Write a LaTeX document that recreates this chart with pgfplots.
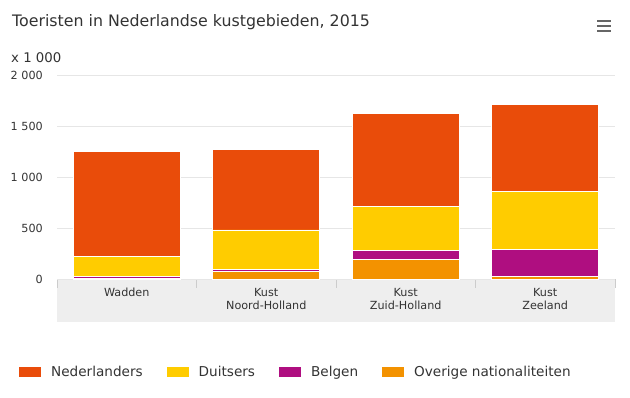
\documentclass[border=0pt]{standalone}
\usepackage{pgfplots}
\pgfplotsset{compat=1.18}
\usepackage{fontspec}
\setmainfont{DejaVu Sans}
\definecolor{cNL}{HTML}{E94C0A}
\definecolor{cDE}{HTML}{FFCC00}
\definecolor{cBE}{HTML}{AF0E80}
\definecolor{cOV}{HTML}{F39200}
\definecolor{txt}{HTML}{333333}
\definecolor{band}{HTML}{EEEEEE}
\definecolor{bandline}{HTML}{CCCCCC}
\definecolor{gridc}{HTML}{E6E6E6}

\pgfplotstableread{
x Overige Belgen Duitsers Nederlanders
0 8 19 194 1029
1 76 20 386 788
2 191 88 435 906
3 27 262 572 847
}\datatable

\begin{document}
\begin{tikzpicture}
\path[use as bounding box] (0,0) rectangle (630pt,-397pt);
\node[anchor=west, text=txt, font=\fontsize{15.8}{18}\selectfont, inner sep=0pt] at (12pt,-22pt) {Toeristen in Nederlandse kustgebieden, 2015};
\node[anchor=west, text=txt, font=\fontsize{13.3}{15}\selectfont, inner sep=0pt] at (11pt,-58pt) {x 1 000};
% x label band
\fill[band] (57pt,-279pt) rectangle (615pt,-322pt);
\draw[bandline, line width=1pt] (57pt,-279pt) -- (615pt,-279pt);
\foreach \x in {57,196.5,336,475.5,615} \draw[bandline, line width=1pt] (\x pt,-279pt) -- (\x pt,-288pt);
% menu icon
\foreach \y in {20.5,25.5,30.5} \draw[line width=2pt, black!60] (597pt,-\y pt) -- (611pt,-\y pt);

\begin{axis}[
  at={(57pt,-279pt)}, anchor=south west,
  scale only axis, width=558pt, height=204pt,
  xmin=-0.5, xmax=3.5, ymin=0, ymax=2000,
  ybar stacked, bar width=107pt,
  axis line style={draw=none},
  major tick length=0pt,
  ymajorgrids, grid style={gridc, line width=0.8pt},
  ytick={0,500,1000,1500,2000},
  yticklabels={0,500,1 000,1 500,2 000},
  yticklabel style={font=\fontsize{11.2}{13}\selectfont, text=txt, inner sep=0pt, xshift=-14pt, anchor=east},
  xtick={0,1,2,3},
  xticklabels={Wadden,Kust\\Noord-Holland,Kust\\Zuid-Holland,Kust\\Zeeland},
  xticklabel style={font=\fontsize{11.2}{13.5}\selectfont, text=txt, align=center, anchor=north, inner sep=0pt, yshift=-9pt},
  legend columns=4,
  legend style={draw=none, fill=none, at={(-0.0735,-0.4560)}, anchor=west,
    font=\fontsize{13.6}{15}\selectfont, text=txt,
    /tikz/every odd column/.append style={column sep=8pt},
    /tikz/every even column/.append style={column sep=22pt},
    cells={anchor=west}},
  legend image code/.code={\fill[#1,draw=none] (0pt,-5pt) rectangle (22pt,5pt);},
  every axis plot/.append style={draw=white, line width=0.6pt},
  reverse legend,
]
\addplot+[fill=cOV, draw=white] table[x=x, y=Overige] {\datatable};
\addplot+[fill=cBE, draw=white] table[x=x, y=Belgen] {\datatable};
\addplot+[fill=cDE, draw=white] table[x=x, y=Duitsers] {\datatable};
\addplot+[fill=cNL, draw=white] table[x=x, y=Nederlanders] {\datatable};
\legend{Overige nationaliteiten,Belgen,Duitsers,Nederlanders}
\end{axis}
\end{tikzpicture}
\end{document}
